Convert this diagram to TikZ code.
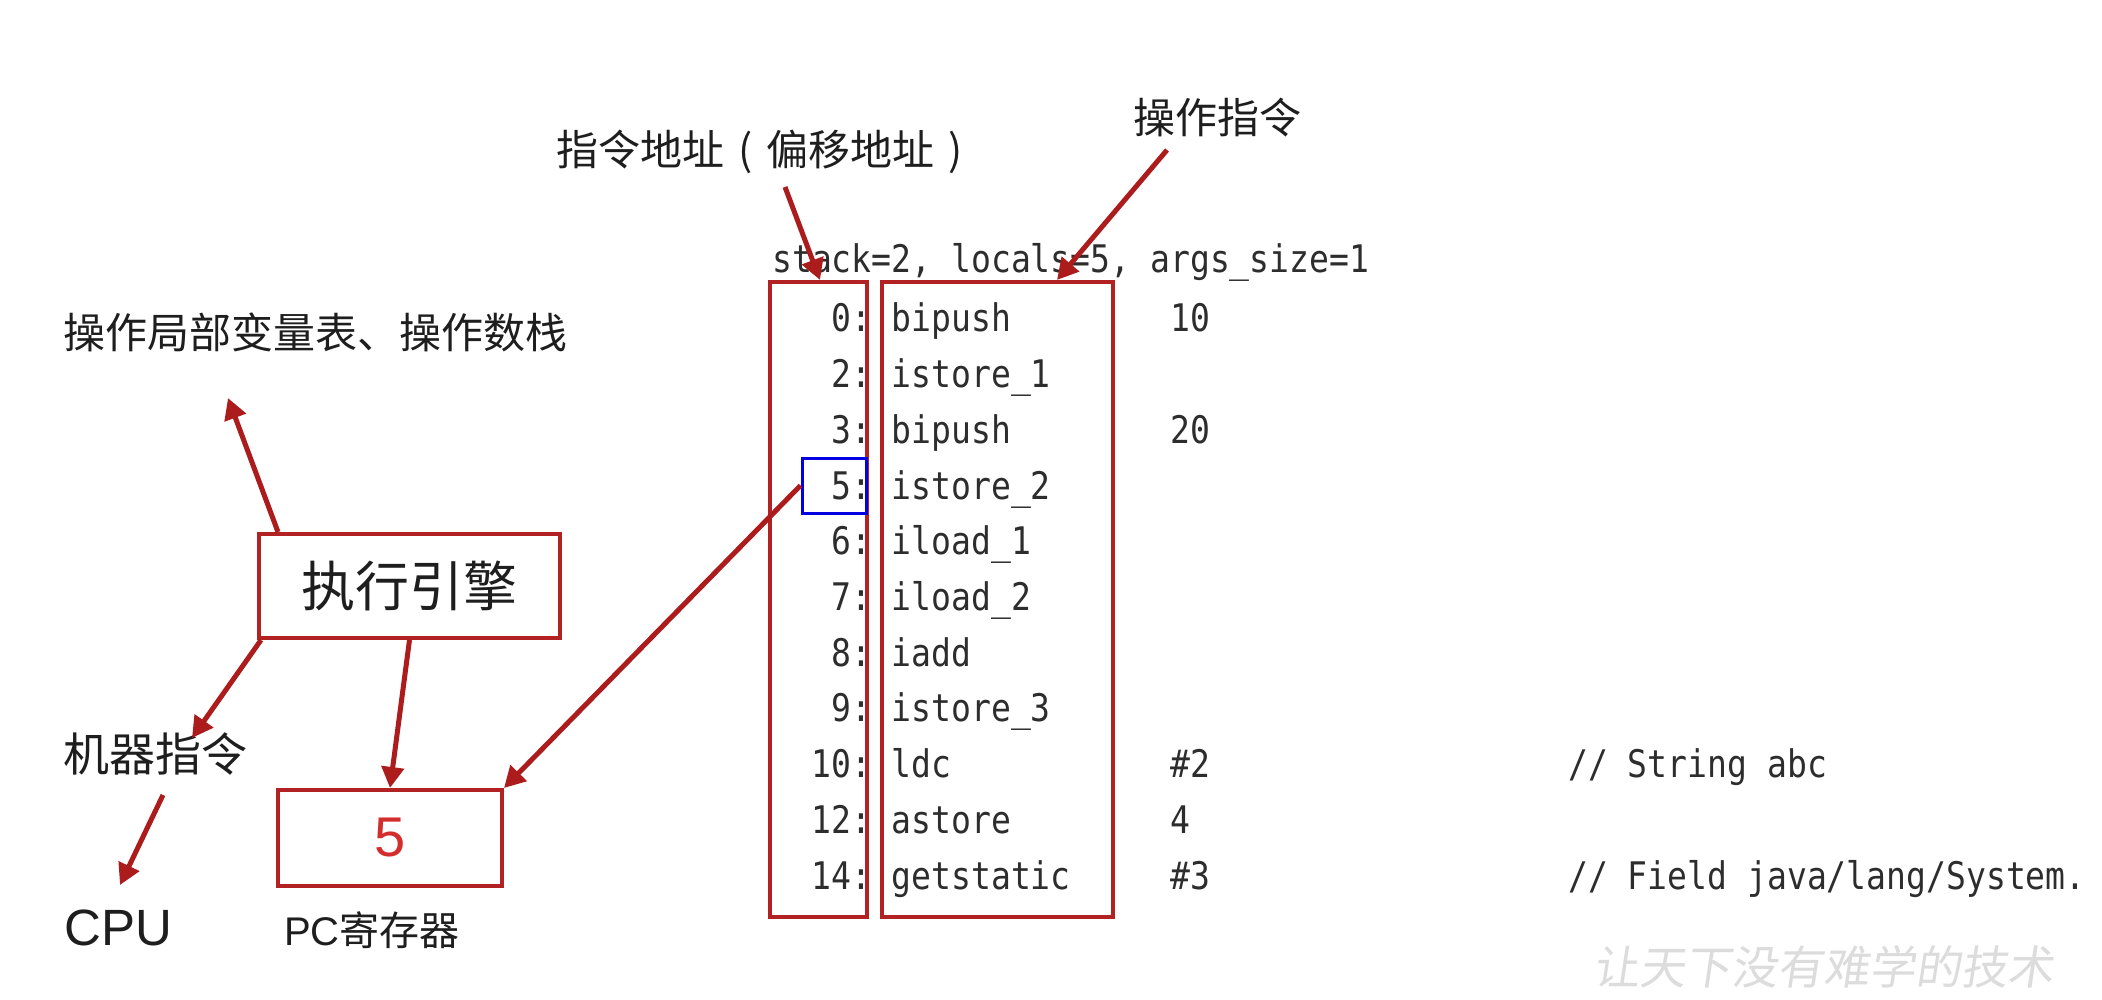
\documentclass[tikz,border=0pt]{standalone}
\usepackage{fontspec}
\setmainfont{Liberation Sans}
\newfontfamily\cjk{Noto Sans CJK SC}
\newfontfamily\wmfont[FakeSlant=0.15]{Noto Sans CJK SC}
\newfontfamily\code[FakeStretch=0.87]{DejaVu Sans Mono}
\usetikzlibrary{arrows.meta,calc}
\definecolor{boxred}{RGB}{178,34,34}
\definecolor{arrred}{RGB}{172,28,28}
\definecolor{txt}{RGB}{30,30,30}
\definecolor{codetxt}{RGB}{45,45,45}
\definecolor{fivered}{RGB}{212,45,45}
\definecolor{wm}{RGB}{220,220,220}
\definecolor{hlblue}{RGB}{0,0,225}
\newcommand{\cparen}[1]{\hbox to 1em{\hss#1\hss}}
\begin{document}
\begin{tikzpicture}[x=1pt,y=-1pt,
  redbox/.style={draw=boxred,line width=4pt,inner sep=0pt},
  arr/.style={draw=arrred,line width=5pt,-{Triangle[length=21pt,width=22pt]}},
  lbl/.style={inner sep=0pt,text=txt,anchor=west},
  codet/.style={inner sep=0pt,text=codetxt,font=\code\fontsize{38pt}{38pt}\selectfont}
]
\useasboundingbox[fill=white] (0,0) rectangle (2102,1000);

% boxes
\node[redbox,minimum width=301pt,minimum height=104pt,text=txt,
      font=\cjk\fontsize{54pt}{54pt}\selectfont] (eng) at (409.5,586) {执行引擎};
\node[redbox,minimum width=224pt,minimum height=96pt,text=fivered,
      font=\fontsize{56pt}{56pt}\selectfont] (pc) at (390,838) {5};
\node[redbox,minimum width=97pt,minimum height=635pt] (addr) at (818.5,599.5) {};
\node[redbox,minimum width=231pt,minimum height=635pt] (ins) at (997.5,599.5) {};
\node[draw=hlblue,line width=3pt,inner sep=0pt,minimum width=64pt,minimum height=55pt] (blue) at (834,485.5) {};

% labels
\node[lbl,font=\cjk\fontsize{42pt}{42pt}\selectfont] (lblLocal) at (63,332) {操作局部变量表、操作数栈};
\node[lbl,font=\cjk\fontsize{46pt}{46pt}\selectfont] (lblMach) at (63,754) {机器指令};
\node[lbl,anchor=base west,font=\fontsize{51pt}{51pt}\selectfont] (lblCPU) at (64,945) {CPU};
\node[lbl,anchor=base west,font=\fontsize{40pt}{40pt}\selectfont] (lblPC) at (284,945) {PC{\cjk 寄存器}};
\node[lbl,font=\cjk\fontsize{42pt}{42pt}\selectfont] (lblAddr) at (556,152) {指令地址\cparen{(}偏移地址\cparen{)}};
\node[lbl,font=\cjk\fontsize{42pt}{42pt}\selectfont] (lblOp) at (1133,118) {操作指令};
\node[anchor=west,inner sep=0pt,text=wm,font=\wmfont\fontsize{46pt}{46pt}\selectfont] (wmark) at (1593,967) {让天下没有难学的技术};

% code listing
\node[codet,anchor=base west] (hdr) at (772,273) {stack=2, locals=5, args\_size=1};
\foreach \k/\ad/\ins in {0/0/bipush,1/2/istore\_1,2/3/bipush,3/5/istore\_2,4/6/iload\_1,
  5/7/iload\_2,6/8/iadd,7/9/istore\_3,8/10/ldc,9/12/astore,10/14/getstatic}{
  \node[codet,anchor=base east] (a\k) at (871.5,332+55.7*\k) {\ad:};
  \node[codet,anchor=base west] (i\k) at (772+6*19.9,332+55.7*\k) {\ins};
}
\foreach \k/\op in {0/10,2/20,8/\#2,9/4,10/\#3}{
  \node[codet,anchor=base west] (o\k) at (772+20*19.9,332+55.7*\k) {\op};
}
\node[codet,anchor=base west] (c8) at (772+40*19.9,332+55.7*8) {// String abc};
\node[codet,anchor=base west] (c10) at (772+40*19.9,332+55.7*10) {// Field java/lang/System.};

% connector end points
\coordinate (tipLocal) at (228,398);
\coordinate (tipMach) at (192,738);
\coordinate (machOut) at (163,795);
\coordinate (tipCPU) at (120,885);
\coordinate (addrIn) at (785,187);
\coordinate (opIn) at (1167,150);

% arrows
\draw[arr] ($(eng.north west)+(21,0)$) -- (tipLocal);
\draw[arr] ($(eng.south west)+(4,0)$) -- (tipMach);
\draw[arr] (machOut) -- (tipCPU);
\draw[arr] (eng.south) -- (pc.north);
\draw[arr] (blue.west) -- (pc.north east);
\draw[arr] (addrIn) -- ($(addr.north)+(1.5,0)$);
\draw[arr] (opIn) -- ($(ins.north east)+(-58,0)$);
\end{tikzpicture}
\end{document}
